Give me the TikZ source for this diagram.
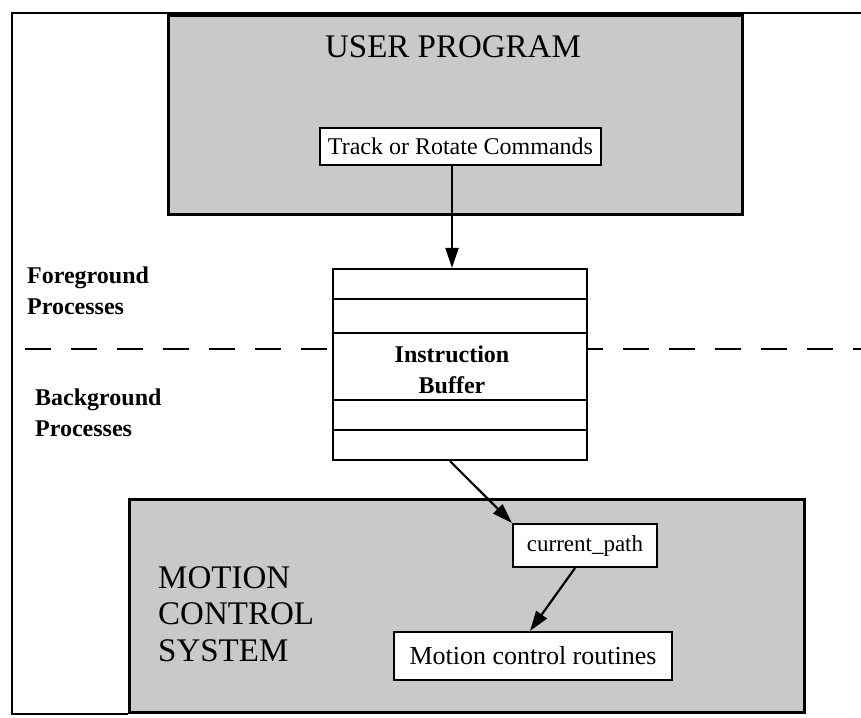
\documentclass[tikz,border=0pt]{standalone}
\usepackage{fontspec}
\setmainfont{Liberation Serif}
\usetikzlibrary{arrows.meta,calc}
\tikzset{
  shaded/.style={draw, line width=2.8pt, fill=gray!42, inner sep=0pt},
  txtbox/.style={draw, line width=2.2pt, fill=white, inner sep=0pt},
  arr/.style={line width=2.2pt, -{Triangle[length=20pt,width=13pt]}},
  lbl/.style={font=\bfseries\fontsize{24}{31}\selectfont, align=left, anchor=north west, inner sep=0pt},
  big/.style={font=\fontsize{33}{36.5}\selectfont, inner sep=0pt},
  framestyle/.style={line width=2.2pt},
  divider/.style={line width=2.2pt, dash pattern=on 26pt off 20pt},
  bufline/.style={line width=2pt}
}
\begin{document}
\begin{tikzpicture}[x=1pt,y=-1pt]
\useasboundingbox (0,0) rectangle (861,717);
% boxes
\node[shaded, anchor=north west, minimum width=675pt, minimum height=213pt] (mcs) at (128,498) {};
\coordinate (fl) at (12,0);
\coordinate (ftr) at (861,13);
\draw[framestyle] (ftr) -- (ftr -| fl) -- (mcs.south -| fl) -- (mcs.south west);
\node[shaded, anchor=north west, minimum width=574pt, minimum height=199pt] (user) at (167,14) {};
\node[big, anchor=base] (usertitle) at (453,58) {USER PROGRAM};
\node[txtbox, minimum width=281pt, minimum height=37pt, font=\fontsize{24}{28}\selectfont] (track) at (460.5,146.5) {Track or Rotate Commands};
% divider
\draw[divider] (25,349) -- (861,349);
% instruction buffer
\node[draw, line width=2.2pt, fill=white, minimum width=254pt, minimum height=191pt, inner sep=0pt] (buf) at (460,364.5) {};
\foreach \d in {31,65,132,162}
  \draw[bufline] ($(buf.north west)+(0,\d)$) -- ($(buf.north east)+(0,\d)$);
\node[font=\bfseries\fontsize{24}{31}\selectfont, align=center, inner sep=0pt] (buftext) at (452,370) {Instruction\\Buffer};
% side labels
\node[lbl] (fg) at (27,267) {Foreground\\Processes};
\node[lbl] (bg) at (35,389) {Background\\Processes};
% motion control system
\node[big, align=left, anchor=north west] (mcstext) at (158,566) {MOTION\\CONTROL\\SYSTEM};
\node[txtbox, minimum width=144pt, minimum height=43pt, font=\fontsize{23}{27}\selectfont] (cur) at (585,545.5) {current\_path};
\node[txtbox, minimum width=278pt, minimum height=48pt, font=\fontsize{26}{30}\selectfont] (mcr) at (533,656) {Motion control routines};
% arrows
\coordinate (a1) at (452,0);
\coordinate (a2) at (450,0);
\coordinate (a3) at (575,0);
\coordinate (a4) at (530,0);
\draw[arr] (track.south -| a1) -- (buf.north -| a1);
\draw[arr] (buf.south -| a2) -- (cur.north west);
\draw[arr] (cur.south -| a3) -- (mcr.north -| a4);
\end{tikzpicture}
\end{document}
